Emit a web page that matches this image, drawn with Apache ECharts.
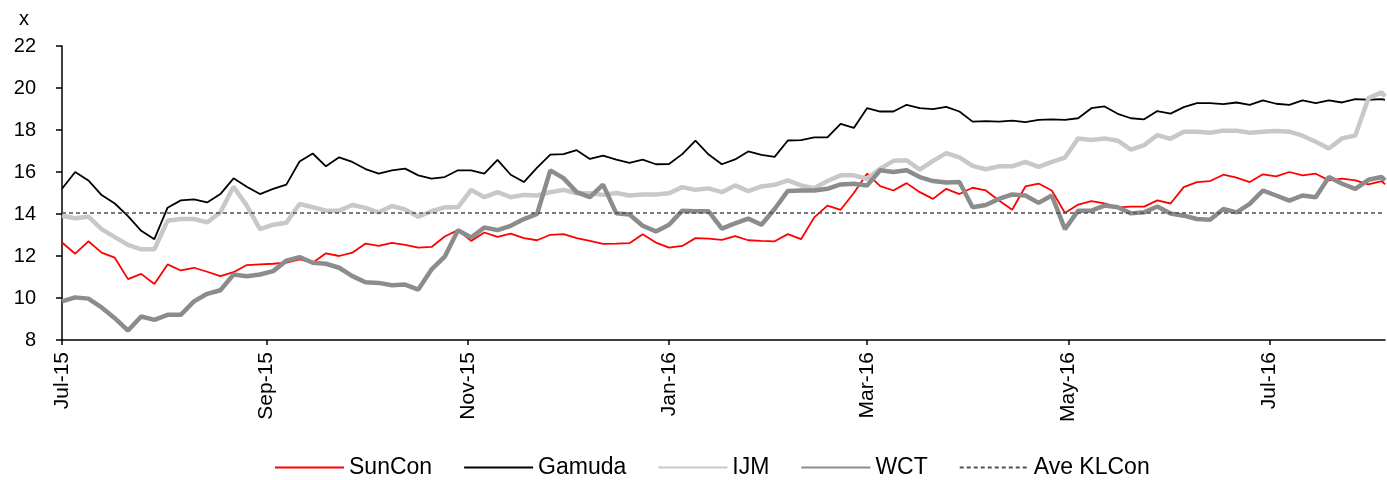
<!DOCTYPE html>
<html>
<head>
<meta charset="utf-8">
<script src="https://cdn.jsdelivr.net/npm/echarts@6/dist/echarts.min.js"></script>
<style>
html,body{margin:0;padding:0;background:#fff;}
#chart{width:1387px;height:480px;}
</style>
</head>
<body>
<div id="chart"></div>
<script>
const dates = [
'2015-07-01','2015-07-05','2015-07-09','2015-07-13','2015-07-17','2015-07-21','2015-07-25','2015-07-29','2015-08-02','2015-08-06',
'2015-08-10','2015-08-14','2015-08-18','2015-08-22','2015-08-26','2015-08-30','2015-09-03','2015-09-07','2015-09-11','2015-09-15',
'2015-09-19','2015-09-23','2015-09-27','2015-10-01','2015-10-05','2015-10-09','2015-10-13','2015-10-17','2015-10-21','2015-10-25',
'2015-10-29','2015-11-02','2015-11-06','2015-11-10','2015-11-14','2015-11-18','2015-11-22','2015-11-26','2015-11-30','2015-12-04',
'2015-12-08','2015-12-12','2015-12-16','2015-12-20','2015-12-24','2015-12-28','2016-01-01','2016-01-05','2016-01-09','2016-01-13',
'2016-01-17','2016-01-21','2016-01-25','2016-01-29','2016-02-02','2016-02-06','2016-02-10','2016-02-14','2016-02-18','2016-02-22',
'2016-02-26','2016-03-01','2016-03-05','2016-03-09','2016-03-13','2016-03-17','2016-03-21','2016-03-25','2016-03-29','2016-04-02',
'2016-04-06','2016-04-10','2016-04-14','2016-04-18','2016-04-22','2016-04-26','2016-04-30','2016-05-04','2016-05-08','2016-05-12',
'2016-05-16','2016-05-20','2016-05-24','2016-05-28','2016-06-01','2016-06-05','2016-06-09','2016-06-13','2016-06-17','2016-06-21',
'2016-06-25','2016-06-29','2016-07-03','2016-07-07','2016-07-11','2016-07-15','2016-07-19','2016-07-23','2016-07-27','2016-07-31',
'2016-08-04','2016-08-05'
];

const sunCon = [
12.64,12.11,12.70,12.16,11.92,10.90,11.15,10.67,11.60,11.31,
11.44,11.25,11.04,11.23,11.57,11.60,11.63,11.68,11.84,11.68,
12.13,12.00,12.16,12.59,12.48,12.62,12.53,12.40,12.43,12.93,
13.23,12.72,13.12,12.91,13.07,12.85,12.75,13.01,13.04,12.85,
12.72,12.58,12.59,12.61,13.04,12.64,12.40,12.48,12.85,12.83,
12.77,12.95,12.75,12.72,12.70,13.04,12.80,13.84,14.40,14.20,
15.00,15.92,15.33,15.12,15.47,15.04,14.72,15.20,14.95,15.25,
15.12,14.64,14.20,15.31,15.45,15.12,14.05,14.45,14.61,14.51,
14.32,14.35,14.35,14.65,14.50,15.28,15.52,15.57,15.87,15.73,
15.52,15.89,15.79,16.00,15.84,15.92,15.60,15.68,15.60,15.41,
15.57,15.41
];

const gamuda = [
15.20,16.00,15.60,14.90,14.50,13.90,13.20,12.80,14.30,14.65,
14.70,14.55,14.95,15.70,15.30,14.95,15.20,15.40,16.50,16.88,
16.27,16.70,16.48,16.14,15.92,16.08,16.16,15.84,15.68,15.76,
16.08,16.08,15.92,16.58,15.87,15.52,16.21,16.83,16.85,17.04,
16.62,16.78,16.59,16.43,16.59,16.37,16.38,16.85,17.49,16.83,
16.37,16.60,16.98,16.82,16.72,17.50,17.52,17.65,17.65,18.29,
18.10,19.04,18.88,18.88,19.20,19.04,18.99,19.10,18.88,18.40,
18.42,18.40,18.45,18.38,18.48,18.51,18.48,18.56,19.04,19.12,
18.77,18.56,18.51,18.90,18.78,19.09,19.28,19.28,19.23,19.31,
19.20,19.41,19.25,19.20,19.41,19.28,19.41,19.31,19.47,19.44,
19.47,19.44
];

const ijm = [
13.92,13.80,13.87,13.28,12.90,12.53,12.32,12.32,13.68,13.76,
13.76,13.60,14.08,15.30,14.40,13.28,13.49,13.58,14.48,14.32,
14.16,14.16,14.43,14.29,14.08,14.38,14.22,13.87,14.13,14.32,
14.32,15.15,14.80,15.04,14.80,14.91,14.88,15.04,15.15,14.99,
14.99,14.91,15.00,14.88,14.93,14.93,14.99,15.28,15.15,15.22,
15.04,15.36,15.09,15.31,15.39,15.60,15.36,15.23,15.57,15.84,
15.84,15.68,16.16,16.53,16.56,16.11,16.53,16.90,16.70,16.29,
16.13,16.27,16.27,16.48,16.24,16.48,16.69,17.60,17.52,17.60,
17.49,17.07,17.28,17.76,17.58,17.92,17.92,17.87,17.97,17.97,
17.87,17.92,17.95,17.92,17.73,17.44,17.12,17.60,17.74,19.52,
19.79,19.60
];

const wct = [
9.84,10.03,9.97,9.55,9.04,8.45,9.12,8.96,9.20,9.20,
9.84,10.20,10.37,11.12,11.04,11.12,11.28,11.78,11.95,11.68,
11.63,11.44,11.04,10.75,10.72,10.61,10.64,10.40,11.36,11.97,
13.23,12.88,13.36,13.23,13.44,13.76,14.00,16.08,15.71,15.04,
14.80,15.40,14.03,13.98,13.44,13.17,13.49,14.16,14.13,14.13,
13.30,13.55,13.78,13.49,14.24,15.10,15.12,15.12,15.20,15.41,
15.44,15.36,16.08,16.00,16.08,15.76,15.57,15.50,15.52,14.32,
14.43,14.72,14.93,14.88,14.53,14.88,13.28,14.16,14.16,14.40,
14.32,14.03,14.08,14.36,14.02,13.92,13.76,13.73,14.24,14.08,
14.48,15.12,14.88,14.64,14.88,14.80,15.76,15.44,15.20,15.63,
15.76,15.60
];

const aveKLCon = 14.05;
const seriesNames = ['SunCon', 'Gamuda', 'IJM', 'WCT', 'Ave KLCon'];
const monthNames = ['Jan','Feb','Mar','Apr','May','Jun','Jul','Aug','Sep','Oct','Nov','Dec'];
const yTicks = { min: 8, max: 22, interval: 2 };

function pairs(vals) { return dates.map((d, i) => [d, vals[i]]); }

const FONT = "'Liberation Sans', Arial, Helvetica, sans-serif";
const chart = echarts.init(document.getElementById('chart'), null, { renderer: 'canvas' });

chart.setOption({
  animation: false,
  backgroundColor: '#ffffff',
  textStyle: { fontFamily: FONT },
  title: {
    text: 'x', left: 14, top: 4,
    textStyle: { fontFamily: FONT, fontSize: 20, fontWeight: 'normal', color: '#000' }
  },
  grid: { left: 62, right: 2, top: 46, bottom: 140, outerBoundsMode: 'none', containLabel: false },
  legend: {
    left: 274, top: 456, padding: 0,
    itemWidth: 69, itemHeight: 12, itemGap: 31,
    itemStyle: { opacity: 0 },
    textStyle: { fontFamily: FONT, fontSize: 23, color: '#000' },
    data: seriesNames
  },
  xAxis: {
    type: 'time',
    min: dates[0], max: dates[dates.length - 1],
    splitNumber: 5,
    axisLine: { show: true, lineStyle: { color: '#000', width: 1.5 } },
    axisTick: { show: true, length: 5, lineStyle: { color: '#000', width: 1.5 } },
    splitLine: { show: false },
    axisLabel: {
      rotate: 90, margin: 12, fontSize: 21, color: '#000', fontFamily: FONT,
      showMaxLabel: false,
      formatter: function (val) {
        const d = new Date(val);
        if (d.getDate() !== 1 || d.getMonth() % 2 !== 0) return '';
        return monthNames[d.getMonth()] + '-' + String(d.getFullYear()).slice(2);
      }
    }
  },
  yAxis: {
    type: 'value', min: yTicks.min, max: yTicks.max, interval: yTicks.interval,
    axisLine: { show: true, lineStyle: { color: '#000', width: 1.5 } },
    axisTick: { show: true, length: 6, lineStyle: { color: '#000', width: 1.5 } },
    splitLine: { show: false },
    axisLabel: { fontSize: 20, color: '#000', margin: 26, fontFamily: FONT }
  },
  series: [
    { name: 'SunCon', type: 'line', data: pairs(sunCon), symbol: 'none', smooth: false,
      lineStyle: { color: '#ff0000', width: 1.8 }, itemStyle: { color: '#ff0000' } },
    { name: 'Gamuda', type: 'line', data: pairs(gamuda), symbol: 'none',
      lineStyle: { color: '#000000', width: 1.8 }, itemStyle: { color: '#000000' } },
    { name: 'IJM', type: 'line', data: pairs(ijm), symbol: 'none',
      lineStyle: { color: '#c8c8c8', width: 4.5 }, itemStyle: { color: '#c8c8c8' } },
    { name: 'WCT', type: 'line', data: pairs(wct), symbol: 'none',
      lineStyle: { color: '#8c8c8c', width: 4.5 }, itemStyle: { color: '#8c8c8c' } },
    { name: 'Ave KLCon', type: 'line', symbol: 'none',
      data: [[dates[0], aveKLCon], [dates[dates.length - 1], aveKLCon]],
      lineStyle: { color: '#505050', width: 1.5, type: [4, 3] }, itemStyle: { color: '#505050' } }
  ]
});
</script>
</body>
</html>
